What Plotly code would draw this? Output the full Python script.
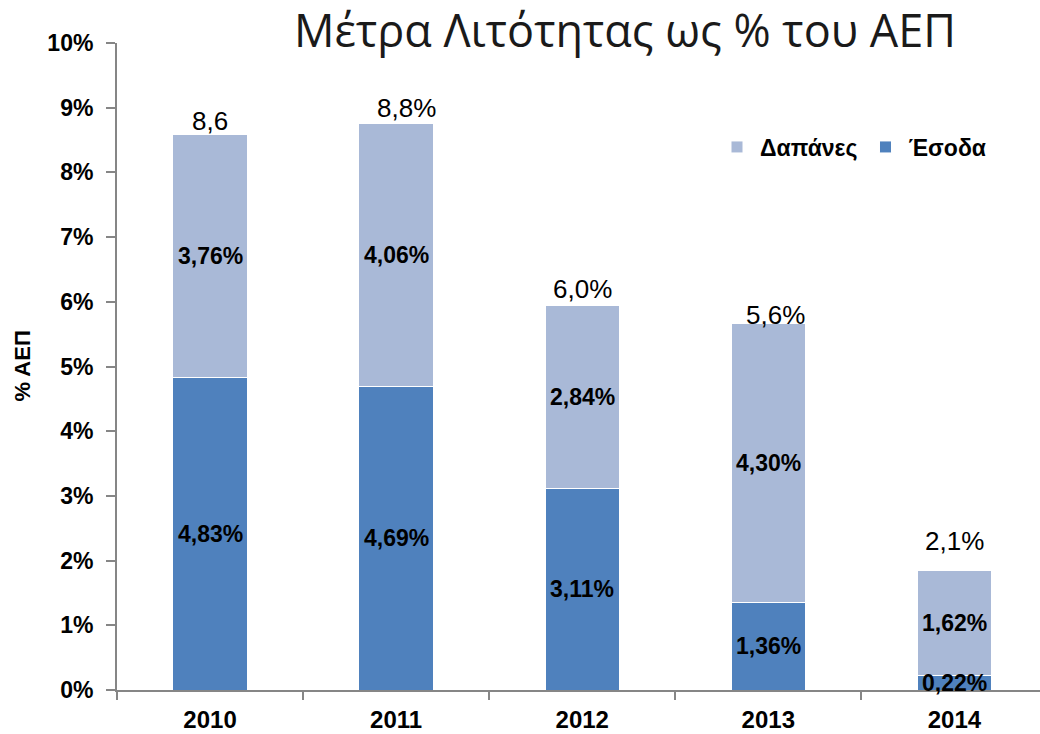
import plotly.graph_objects as go

years = ["2010", "2011", "2012", "2013", "2014"]
esoda = [4.83, 4.69, 3.11, 1.36, 0.22]
dapanes = [3.76, 4.06, 2.84, 4.30, 1.62]
total_values = [8.6, 8.8, 6.0, 5.6, 2.1]
total_labels = ["8,6", "8,8%", "6,0%", "5,6%", "2,1%"]
total_xshift = [0, 10, 0, 7, 0]

C_ESODA = "#4F81BD"
C_DAPANES = "#A9B9D7"
FONT = "Liberation Sans"

def fmt(v):
    return f"{v:.2f}".replace(".", ",") + "%"

fig = go.Figure()
fig.add_trace(go.Bar(x=years, y=esoda, name="Έσοδα", marker=dict(color=C_ESODA, line=dict(color="white", width=1))))
fig.add_trace(go.Bar(x=years, y=dapanes, name="Δαπάνες", marker=dict(color=C_DAPANES, line=dict(color="white", width=1))))

lbl_font = dict(family=FONT, size=23, color="black", weight="bold")
ann = []
for i, y in enumerate(years):
    # category axis: annotations use the category index
    ann.append(dict(x=i, y=esoda[i] / 2, text=fmt(esoda[i]), showarrow=False, font=lbl_font))
    ann.append(dict(x=i, y=esoda[i] + dapanes[i] / 2, text=fmt(dapanes[i]), showarrow=False, font=lbl_font))
    ann.append(dict(x=i, y=total_values[i], text=total_labels[i], showarrow=False, yanchor="bottom",
                    xshift=total_xshift[i], yshift=-4,
                    font=dict(family=FONT, size=26, color="black")))
ann.append(dict(xref="paper", yref="paper", x=(22 - 117) / 923, y=0.5, xanchor="center", yanchor="middle",
                text="% ΑΕΠ", textangle=-90,
                showarrow=False, font=dict(family=FONT, size=22, color="black", weight="bold")))

fig.update_layout(
    width=1040, height=734,
    margin=dict(l=117, r=0, t=43, b=44),
    plot_bgcolor="white", paper_bgcolor="white",
    barmode="stack", bargap=0.6,
    showlegend=True,
    legend=dict(orientation="h", x=(714 - 117) / 923, y=(690 - 147) / 647, xanchor="left", yanchor="middle",
                traceorder="reversed",
                font=dict(family=FONT, size=23, color="black", weight="bold"), itemwidth=36,
                bgcolor="rgba(0,0,0,0)"),
    title=dict(text="Μέτρα Λιτότητας ως % του ΑΕΠ", x=625 / 1040, xanchor="center", y=1 - 31 / 734, yanchor="middle",
               font=dict(family="Open Sans", size=45, color="#1a1a1a")),
    annotations=ann,
)
fig.update_xaxes(type="category", range=[-0.5, 4.46], showline=True, linecolor="#868686", linewidth=2,
                 ticks="outside", tickson="boundaries", ticklen=8, tickcolor="#868686", tickwidth=2,
                 tickfont=dict(family=FONT, size=24, color="black", weight="bold"), showgrid=False,
                 ticklabelstandoff=7, automargin=False)
fig.update_yaxes(range=[0, 10], tickvals=list(range(11)), ticktext=[f"{v}%" for v in range(11)],
                 showline=True, linecolor="#868686", linewidth=2, ticks="outside", ticklen=9,
                 tickcolor="#868686", tickwidth=2, showgrid=False, zeroline=False, automargin=False,
                 ticklabelstandoff=8,
                 tickfont=dict(family=FONT, size=23, color="black", weight="bold"))

fig.write_html("out.html", config={"displayModeBar": False},
               post_script="document.body.style.margin='0';document.body.style.overflow='hidden';")
